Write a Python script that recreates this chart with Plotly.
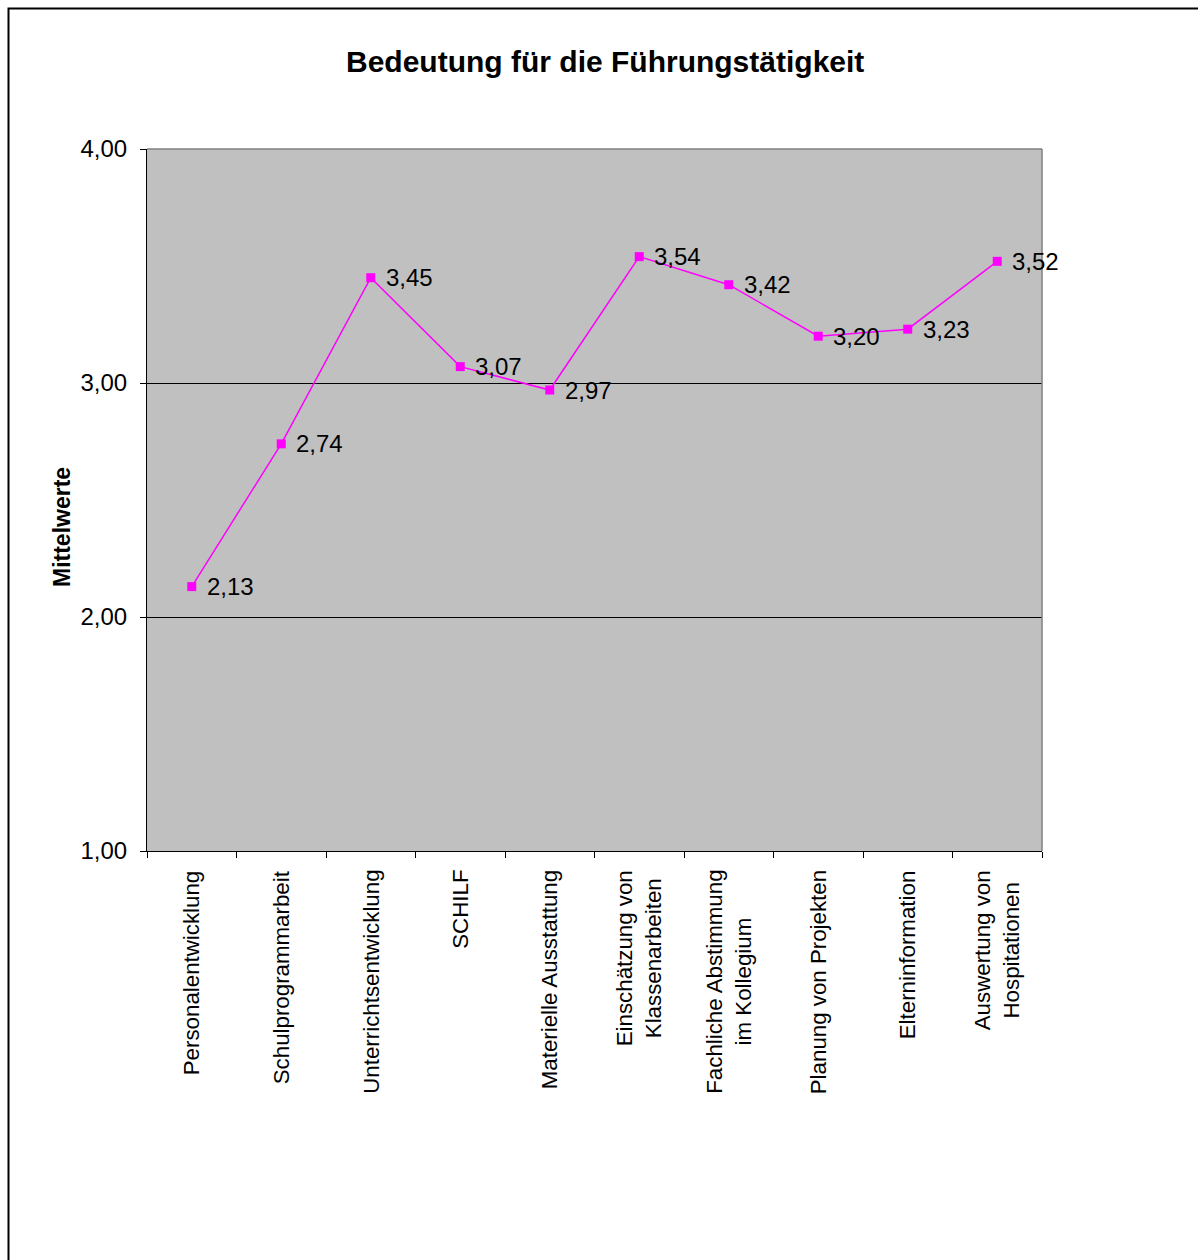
import plotly.graph_objects as go

# Bedeutung der einzelnen Aufgaben für die Führungstätigkeit (Mittelwerte)
categories = [
    "Personalentwicklung",
    "Schulprogrammarbeit",
    "Unterrichtsentwicklung",
    "SCHILF",
    "Materielle Ausstattung",
    "Einschätzung von<br>Klassenarbeiten",
    "Fachliche Abstimmung<br>im Kollegium",
    "Planung von Projekten",
    "Elterninformation",
    "Auswertung von<br>Hospitationen",
]
mittelwerte = [2.13, 2.74, 3.45, 3.07, 2.97, 3.54, 3.42, 3.20, 3.23, 3.52]
y_ticks = [1, 2, 3, 4]

FONT = "Liberation Sans, Arial, sans-serif"
MAGENTA = "#FF00FF"

W, H = 1198, 1260
L, R, T, B = 147, 1042, 149, 851  # plot area in pixels


def px_x(p):
    return (p - L) / (R - L)


def px_y(p):
    return (B - p) / (B - T)


def fmt_de(v):
    return f"{v:.2f}".replace(".", ",")


fig = go.Figure()
fig.add_trace(go.Scatter(
    x=categories,
    y=mittelwerte,
    mode="lines+markers",
    line=dict(color=MAGENTA, width=1.5),
    marker=dict(symbol="square", size=9, color=MAGENTA),
    cliponaxis=False,
    hoverinfo="skip",
    showlegend=False,
))

annotations = [
    dict(text="<b>Bedeutung für die Führungstätigkeit</b>",
         x=px_x(604.5), y=px_y(61), xref="paper", yref="paper",
         xanchor="center", yanchor="middle", showarrow=False,
         font=dict(family=FONT, size=30, color="black")),
    dict(text="<b>Mittelwerte</b>",
         x=px_x(62), y=px_y(527), xref="paper", yref="paper",
         xanchor="center", yanchor="middle", textangle=-90, showarrow=False,
         font=dict(family=FONT, size=23, color="black")),
]
# value labels to the right of each point
for cat, val in zip(categories, mittelwerte):
    annotations.append(dict(
        text=fmt_de(val), x=cat, y=val, xref="x", yref="y",
        xanchor="left", yanchor="middle", xshift=13, showarrow=False,
        font=dict(family=FONT, size=24, color="black"),
    ))
# rotated category labels, lines centred on each category
for cat in categories:
    annotations.append(dict(
        text=cat, x=cat, y=px_y(868), xref="x", yref="paper",
        xanchor="center", yanchor="top", textangle=-90, align="center",
        showarrow=False, font=dict(family=FONT, size=22.3, color="black"),
    ))

shapes = [
    # outer chart frame
    dict(type="rect", xref="paper", yref="paper",
         x0=px_x(8.5), x1=px_x(1300), y0=px_y(1400), y1=px_y(8.5),
         line=dict(color="black", width=2), fillcolor="rgba(0,0,0,0)",
         layer="above"),
    # grey top and right edges of the plot area
    dict(type="line", xref="paper", yref="paper", x0=0, x1=1, y0=1, y1=1,
         line=dict(color="#808080", width=1.5), layer="above"),
    dict(type="line", xref="paper", yref="paper", x0=1, x1=1, y0=0, y1=1,
         line=dict(color="#808080", width=1.5), layer="above"),
]

fig.update_layout(
    width=W, height=H,
    margin=dict(l=L, r=W - R, t=T, b=H - B, pad=0),
    paper_bgcolor="white",
    plot_bgcolor="#C0C0C0",
    separators=",.",
    font=dict(family=FONT, color="black"),
    annotations=annotations,
    shapes=shapes,
    xaxis=dict(
        type="category",
        range=[-0.5, len(categories) - 0.5],
        showticklabels=False,
        tickson="boundaries",
        ticks="outside", ticklen=6, tickcolor="black", tickwidth=1,
        showline=True, linecolor="black", linewidth=1,
        showgrid=False, zeroline=False,
        fixedrange=True,
    ),
    yaxis=dict(
        range=[1, 4],
        tickvals=y_ticks,
        tickformat=".2f",
        ticks="outside", ticklen=6, tickcolor="black", tickwidth=1,
        ticklabelstandoff=8,
        tickfont=dict(family=FONT, size=24, color="black"),
        showline=True, linecolor="black", linewidth=1,
        showgrid=True, gridcolor="black", gridwidth=1,
        zeroline=False,
        fixedrange=True,
    ),
)

fig.write_html("out.html")
